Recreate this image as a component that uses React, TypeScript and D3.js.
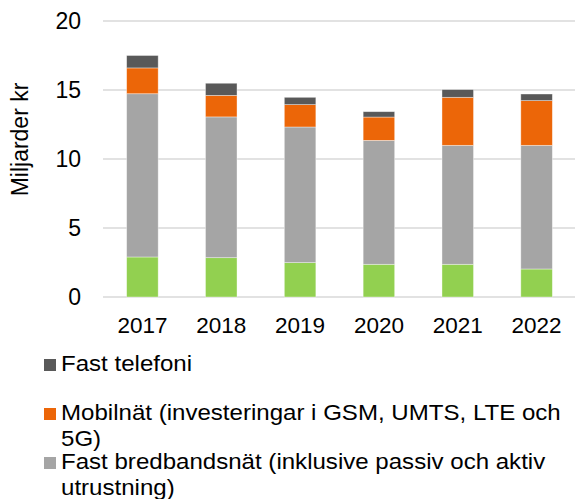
import { useEffect, useRef } from "react";
import * as d3 from "d3";

const years = ["2017", "2018", "2019", "2020", "2021", "2022"];
// miljarder kr
const ovrigt = [2.9, 2.85, 2.49, 2.37, 2.37, 2.03];
const fastBredband = [11.83, 10.2, 9.83, 8.98, 8.62, 8.96];
const mobilnat = [1.87, 1.56, 1.62, 1.69, 3.48, 3.24];
const fastTelefoni = [0.9, 0.88, 0.53, 0.39, 0.56, 0.48];
const yTicks = [0, 5, 10, 15, 20];

const keys = ["ovrigt", "fastBredband", "mobilnat", "fastTelefoni"];
const colors: Record<string, string> = {
  ovrigt: "#92d050",
  fastBredband: "#a5a5a5",
  mobilnat: "#ec6608",
  fastTelefoni: "#595959",
};
const legendItems = [
  { key: "fastTelefoni", lines: ["Fast telefoni"] },
  { key: "mobilnat", lines: ["Mobilnät (investeringar i GSM, UMTS, LTE och", "5G)"] },
  { key: "fastBredband", lines: ["Fast bredbandsnät (inklusive passiv och aktiv", "utrustning)"] },
];

const W = 575;
const H = 499;
const FONT = "'Liberation Sans', Arial, sans-serif";

const App = () => {
  const svgRef = useRef<SVGSVGElement>(null);

  useEffect(() => {
    const svg = d3.select(svgRef.current);
    svg.selectAll("*").remove();

    const table = years.map((year, i) => ({
      year,
      ovrigt: ovrigt[i],
      fastBredband: fastBredband[i],
      mobilnat: mobilnat[i],
      fastTelefoni: fastTelefoni[i],
    }));

    const x = d3
      .scaleBand()
      .domain(years)
      .range([103, 576])
      .paddingInner(0.6)
      .paddingOuter(0.3);
    const y = d3.scaleLinear().domain([0, 20]).range([297, 21]);

    // gridlines
    svg
      .append("g")
      .selectAll("line")
      .data(yTicks)
      .enter()
      .append("line")
      .attr("x1", 103)
      .attr("x2", 575)
      .attr("y1", (d) => y(d))
      .attr("y2", (d) => y(d))
      .attr("stroke", "#d9d9d9")
      .attr("stroke-width", 1.5);

    // tick labels
    svg
      .append("g")
      .selectAll("text")
      .data(yTicks)
      .enter()
      .append("text")
      .attr("x", 81)
      .attr("y", (d) => y(d))
      .attr("dy", "0.36em")
      .attr("text-anchor", "end")
      .attr("font-family", FONT)
      .attr("font-size", 23)
      .attr("fill", "#000")
      .text((d) => d);

    const stacked = d3.stack<any>().keys(keys)(table);

    svg
      .append("g")
      .selectAll("g")
      .data(stacked)
      .enter()
      .append("g")
      .attr("fill", (s) => colors[s.key])
      .selectAll("rect")
      .data((s) => s)
      .enter()
      .append("rect")
      .attr("x", (d) => x(d.data.year) || 0)
      .attr("width", x.bandwidth())
      .attr("y", (d) => y(d[1]))
      .attr("height", (d) => y(d[0]) - y(d[1]))
      .attr("stroke", "#ffffff")
      .attr("stroke-opacity", 0.5)
      .attr("stroke-width", 0.75);

    // year labels
    svg
      .append("g")
      .selectAll("text")
      .data(years)
      .enter()
      .append("text")
      .attr("x", (d) => (x(d) || 0) + x.bandwidth() / 2)
      .attr("y", 333)
      .attr("text-anchor", "middle")
      .attr("font-family", FONT)
      .attr("font-size", 22.5)
      .text((d) => d);

    // axis title
    svg
      .append("text")
      .attr("transform", "translate(28,139.5) rotate(-90)")
      .attr("text-anchor", "middle")
      .attr("font-family", FONT)
      .attr("font-size", 23)
      .text("Miljarder kr");

    // legend
    const ly = d3
      .scaleLinear()
      .domain([0, 1])
      .range([371, 420]);
    const lg = svg
      .append("g")
      .selectAll("g")
      .data(legendItems)
      .enter()
      .append("g")
      .attr("transform", (d, i) => `translate(0,${ly(i)})`);
    lg.append("rect")
      .attr("x", 44)
      .attr("y", -12)
      .attr("width", 12)
      .attr("height", 12)
      .attr("fill", (d) => colors[d.key]);
    lg.append("text")
      .attr("transform", "translate(61,0) scale(1.12,1)")
      .attr("font-family", FONT)
      .attr("font-size", 21.5)
      .selectAll("tspan")
      .data((d) => d.lines)
      .enter()
      .append("tspan")
      .attr("x", 0)
      .attr("y", (d, i) => i * 26)
      .text((d) => d);
  }, []);

  return (
    <svg
      ref={svgRef}
      width={W}
      height={H}
      style={{ position: "absolute", left: 0, top: 0, background: "#fff" }}
    />
  );
};

export default App;
